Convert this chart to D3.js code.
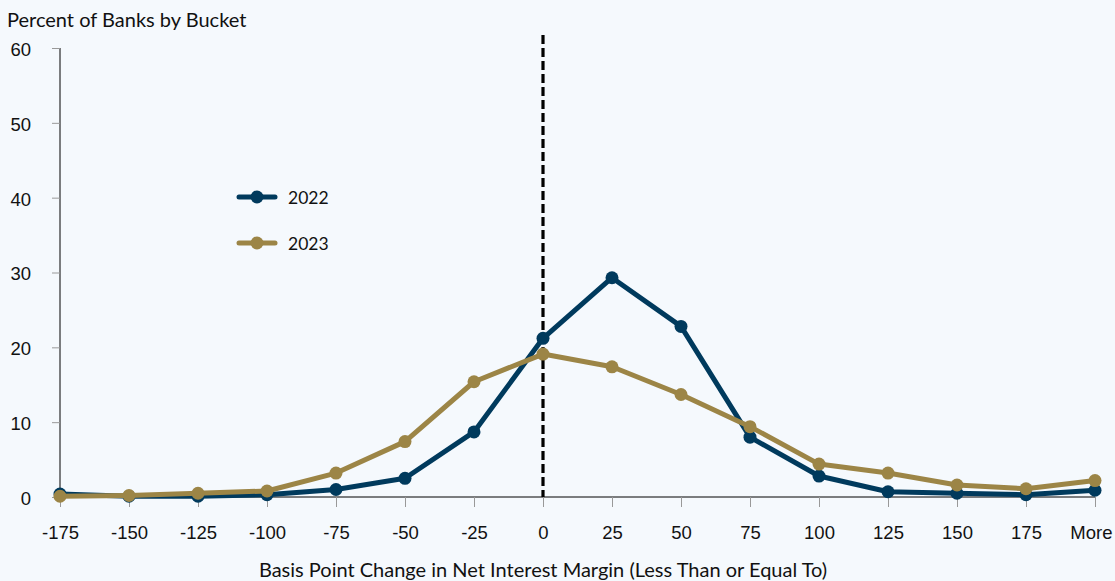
<!DOCTYPE html>
<html>
<head>
<meta charset="utf-8">
<script src="https://cdn.jsdelivr.net/npm/d3@7"></script>
<style>
  body { margin: 0; background: #f5f9fd; }
  svg { display: block; font-family: "Source Sans Pro", Lato, "Noto Sans", sans-serif; }
</style>
</head>
<body>
<svg id="chart" width="1115" height="581"></svg>
<script>
const buckets = ["-175", "-150", "-125", "-100", "-75", "-50", "-25", "0", "25", "50", "75", "100", "125", "150", "175", "More"];
const values2022 = [0.4, 0.1, 0.1, 0.3, 1.0, 2.5, 8.7, 21.2, 29.3, 22.8, 8.0, 2.8, 0.7, 0.5, 0.3, 0.9];
const values2023 = [0.1, 0.2, 0.5, 0.8, 3.2, 7.4, 15.4, 19.1, 17.4, 13.7, 9.4, 4.4, 3.2, 1.6, 1.1, 2.2];
const yTicks = [0, 10, 20, 30, 40, 50, 60];
const seriesNames = ["2022", "2023"];
const colors = ["#003a5d", "#9c8546"];

const svg = d3.select("#chart");

const x = d3.scalePoint().domain(buckets).range([60, 1095]);
const y = d3.scaleLinear().domain([0, 60]).range([497, 48]);

// y axis
const yAxis = svg.append("g").attr("transform", "translate(60,0)")
  .call(d3.axisLeft(y).tickValues(yTicks).tickSize(8).tickPadding(21));
yAxis.select(".domain").attr("stroke", "#000").attr("d", `M0,${y(60)}V${y(0)}`);
yAxis.selectAll(".tick line").attr("stroke", "#999");
yAxis.selectAll(".tick text").attr("font-size", 18.5).attr("fill", "#111").attr("dy", "0.4em");

// x axis
const xAxis = svg.append("g").attr("transform", `translate(0,${y(0)})`)
  .call(d3.axisBottom(x).tickSize(10).tickPadding(19));
xAxis.select(".domain").attr("stroke", "#000").attr("d", `M60,0H1095`);
xAxis.selectAll(".tick line").attr("stroke", "#999");
xAxis.selectAll(".tick text").attr("font-size", 18.5).attr("fill", "#111");
// last label sits against the right edge
xAxis.selectAll(".tick text").filter(d => d === "More")
  .attr("text-anchor", "end").attr("x", 17);

// titles
svg.append("text").attr("x", 7).attr("y", 27).attr("font-size", 20).attr("fill", "#111")
  .text("Percent of Banks by Bucket");
svg.append("text").attr("x", 543).attr("y", 577).attr("text-anchor", "middle")
  .attr("font-size", 20).attr("fill", "#111")
  .text("Basis Point Change in Net Interest Margin (Less Than or Equal To)");

// zero reference line
svg.append("line")
  .attr("x1", x("0")).attr("x2", x("0"))
  .attr("y1", 35).attr("y2", y(0))
  .attr("stroke", "#000").attr("stroke-width", 3.2)
  .attr("stroke-dasharray", "9,4");

const line = d3.line().x((d, i) => x(buckets[i])).y(d => y(d));
[values2022, values2023].forEach((vals, k) => {
  const g = svg.append("g");
  g.append("path").datum(vals).attr("d", line)
    .attr("fill", "none").attr("stroke", colors[k]).attr("stroke-width", 5)
    .attr("stroke-linejoin", "round");
  g.selectAll("circle").data(vals).join("circle")
    .attr("cx", (d, i) => x(buckets[i])).attr("cy", d => y(d))
    .attr("r", 6.5).attr("fill", colors[k]);
});

// legend
const legend = svg.append("g");
seriesNames.forEach((name, k) => {
  const ly = 197 + k * 46;
  legend.append("line").attr("x1", 239).attr("x2", 275).attr("y1", ly).attr("y2", ly)
    .attr("stroke", colors[k]).attr("stroke-width", 5).attr("stroke-linecap", "round");
  legend.append("circle").attr("cx", 257).attr("cy", ly).attr("r", 6.5).attr("fill", colors[k]);
  legend.append("text").attr("x", 288).attr("y", ly).attr("dy", "0.38em")
    .attr("font-size", 17.5).attr("fill", "#111").text(name);
});
</script>
</body>
</html>
